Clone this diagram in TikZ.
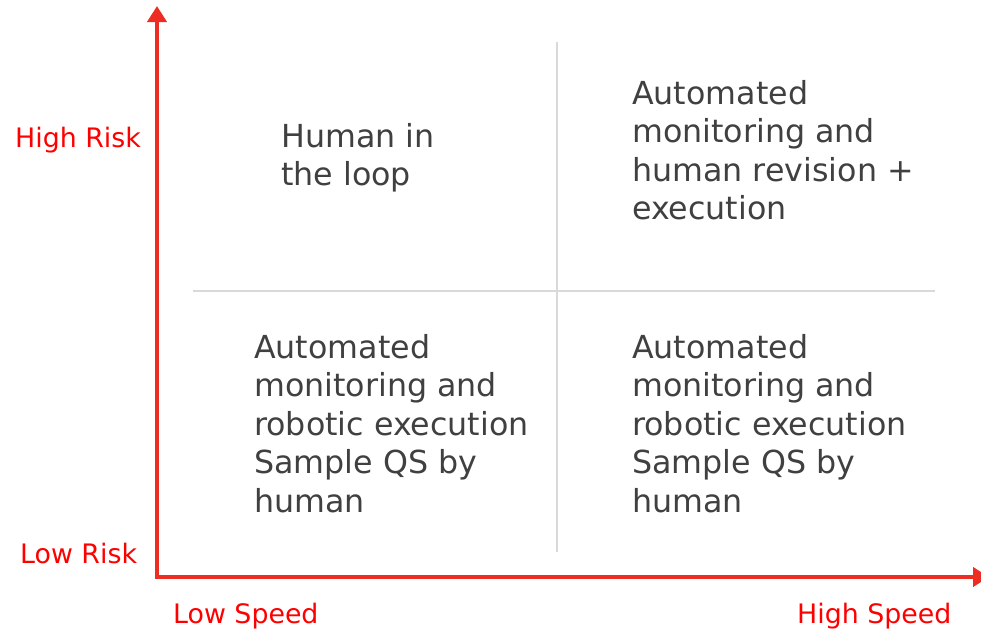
\documentclass[tikz,border=0pt]{standalone}
\usepackage{fontspec}
\setmainfont{DejaVu Sans}
\usetikzlibrary{arrows.meta}
\definecolor{axisred}{RGB}{237,45,36}
\definecolor{labelred}{RGB}{255,0,0}
\definecolor{gridgray}{RGB}{217,217,217}
\definecolor{textgray}{RGB}{64,64,64}
\tikzset{
  axisline/.style={draw=axisred, line width=4pt,
    arrows={Triangle[width=19pt,length=16pt]-Triangle[width=19pt,length=16pt]}},
  divider/.style={draw=gridgray, line width=2pt},
  quadtext/.style={anchor=north west, inner sep=0pt, align=left, text=textgray,
    font=\fontsize{31.7}{38.5}\selectfont},
  axislabel/.style={anchor=base west, inner sep=0pt, text=labelred,
    font=\fontsize{26.8}{32}\selectfont},
}
\begin{document}
\begin{tikzpicture}[x=1pt, y=-1pt]
  \useasboundingbox (0,0) rectangle (981,629);

  % quadrant dividers
  \coordinate (vtop) at (557,42);
  \coordinate (vbot) at (557,552);
  \coordinate (hleft) at (193,291);
  \coordinate (hright) at (935,291);
  \draw[divider] (vtop) -- (vbot);
  \draw[divider] (hleft) -- (hright);

  % axes
  \coordinate (ytip) at (157,6);
  \coordinate (origin) at (157,577);
  \coordinate (xtip) at (989,577);
  \draw[axisline] (ytip) -- (origin) -- (xtip);

  % quadrant texts
  \node[quadtext] (q1) at (281,123) {Human in\\the loop};
  \node[quadtext] (q2) at (632,80) {Automated\\monitoring and\\human revision +\\execution};
  \node[quadtext] (q3) at (254,334) {Automated\\monitoring and\\robotic execution\\Sample QS by\\human};
  \node[quadtext] (q4) at (632,334) {Automated\\monitoring and\\robotic execution\\Sample QS by\\human};

  % axis labels
  \node[axislabel] (highrisk) at (15,147) {High Risk};
  \node[axislabel] (lowrisk) at (20,563) {Low Risk};
  \node[axislabel] (lowspeed) at (173,623) {Low Speed};
  \node[axislabel] (highspeed) at (797,623) {High Speed};
\end{tikzpicture}
\end{document}
